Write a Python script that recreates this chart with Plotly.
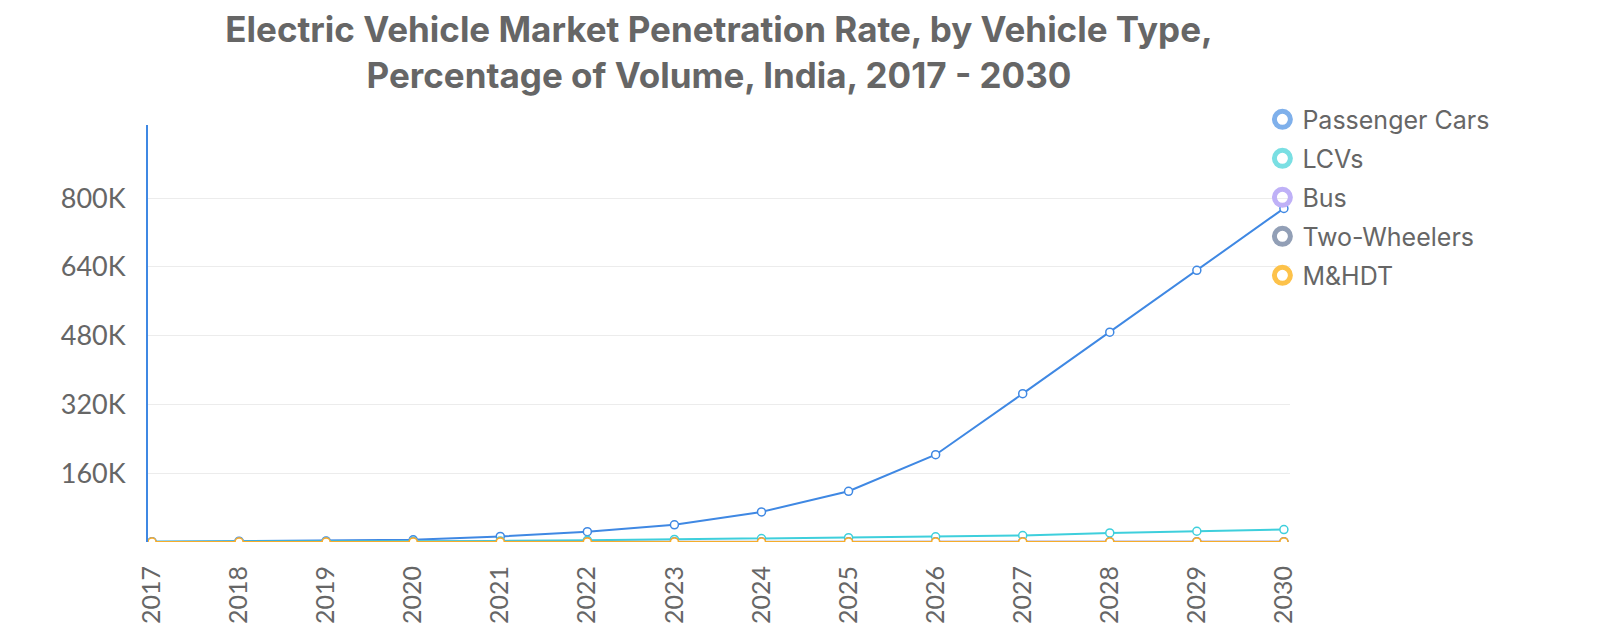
import plotly.graph_objects as go

years = list(range(2017, 2031))
passenger_cars = [500, 2000, 2500, 5000, 13000, 24000, 40000, 70000, 118000, 203000, 345000, 488000, 632000, 776000]
lcvs = [500, 800, 1000, 1500, 2500, 4000, 6000, 8000, 10000, 12000, 15000, 21000, 25000, 29000]
bus = [50, 60, 70, 80, 100, 120, 150, 200, 250, 300, 350, 400, 450, 500]
two_wheelers = [100, 150, 200, 250, 300, 350, 400, 450, 500, 550, 600, 650, 700, 750]
mhdt = [20, 25, 30, 35, 40, 45, 50, 60, 70, 80, 90, 100, 110, 120]

series_names = ["Passenger Cars", "LCVs", "Bus", "Two-Wheelers", "M&HDT"]
series_values = [passenger_cars, lcvs, bus, two_wheelers, mhdt]
line_colors = ["#3f88e3", "#3ecfdc", "#a99af0", "#8a97b0", "#f6ad2b"]
legend_colors = ["#7fb0eb", "#7adfe3", "#bfb1f7", "#929fb6", "#fdc24a"]

y_ticks = [160000, 320000, 480000, 640000, 800000]
y_ticktext = ["160K", "320K", "480K", "640K", "800K"]

TITLE_FONT = "Inter"
TICK_FONT = "Lato"
GRAY = "#666666"

fig = go.Figure()
for name, vals, lc in zip(series_names, series_values, line_colors):
    fig.add_trace(go.Scatter(
        x=years, y=vals, mode="lines+markers", name=name,
        line=dict(color=lc, width=2),
        marker=dict(symbol="circle", size=8, color="white", line=dict(color=lc, width=1.5)),
        showlegend=False,
    ))
for name, c in zip(series_names, legend_colors):
    fig.add_trace(go.Scatter(
        x=[None], y=[None], mode="markers", name=name, legendgroup=name,
        marker=dict(symbol="circle-open", size=16, color=c, line=dict(color=c, width=5)),
        showlegend=True,
    ))

fig.update_layout(
    width=1600, height=633,
    paper_bgcolor="white", plot_bgcolor="white",
    margin=dict(l=140, r=318, t=117, b=99, autoexpand=False),
    title=dict(
        text="<b>Electric Vehicle Market Penetration Rate, by Vehicle Type,<br>Percentage of Volume, India, 2017 - 2030</b>",
        x=0.5, xref="paper", xanchor="center",
        y=0.946, yref="container", yanchor="middle",
        font=dict(family=TITLE_FONT, size=35, color=GRAY),
    ),
    legend=dict(
        xref="container", yref="container",
        x=0.784, y=0.86, xanchor="left", yanchor="top",
        font=dict(family=TITLE_FONT, size=25, color=GRAY),
        itemsizing="trace", tracegroupgap=3.5,
        bgcolor="rgba(0,0,0,0)",
    ),
    showlegend=True,
)
fig.update_xaxes(
    range=[2016.954, 2030.07],
    tickvals=years, ticktext=[str(y) for y in years],
    tickangle=-90,
    tickfont=dict(family=TICK_FONT, size=25, color=GRAY),
    showgrid=False, zeroline=False, showline=False,
    ticks="outside", ticklen=13, tickcolor="rgba(0,0,0,0)",
)
fig.update_yaxes(
    range=[0, 970000],
    tickvals=y_ticks, ticktext=y_ticktext,
    tickfont=dict(family=TICK_FONT, size=27, color=GRAY),
    showgrid=True, gridcolor="#ececec", gridwidth=1,
    zeroline=False,
    showline=True, linecolor="#3f88e3", linewidth=2,
    ticks="outside", ticklen=15, tickcolor="rgba(0,0,0,0)",
)

fig.write_html("out.html")
